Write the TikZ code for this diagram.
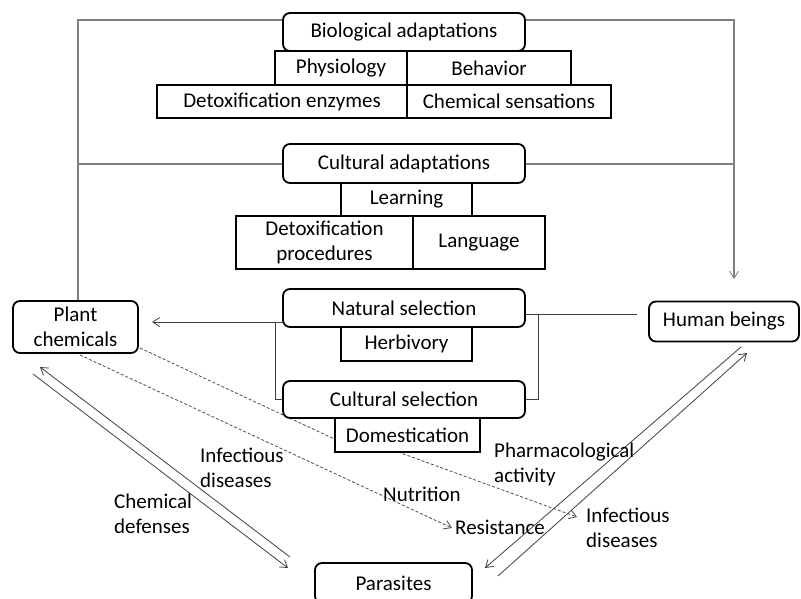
\documentclass[tikz,border=0pt]{standalone}
\usepackage{fontspec}
\setmainfont{Carlito}
\usetikzlibrary{arrows.meta}
\begin{document}
\begin{tikzpicture}[x=1pt,y=-1pt,
  every node/.style={font=\fontsize{21}{25}\selectfont, inner sep=0pt, align=center},
  rbox/.style={draw=black, line width=1.8pt, rounded corners=7pt, fill=white},
  sbox/.style={draw=black, line width=1.8pt, fill=white},
  gline/.style={draw=black!50, line width=1.2pt},
  dline/.style={draw=black!75, line width=0.8pt},
  dashln/.style={draw=black!70, line width=0.8pt, dash pattern=on 3pt off 2pt},
  arrtip/.style={-{Straight Barb[length=7pt,width=9pt,line width=0.8pt]}},
  lbl/.style={font=\fontsize{21}{25}\selectfont, align=left, fill=none}
]
\useasboundingbox (0,0) rectangle (801,599);

% top gray connectors
\coordinate (tl) at (78,20);
\coordinate (tr) at (734,20);
\coordinate (ml) at (78,164);
\coordinate (mr) at (734,164);
\coordinate (harrow) at (734,279);
\draw[gline] (283,20) -- (tl) -- (78,301);
\draw[gline, -{Straight Barb[length=7pt,width=9pt,line width=0.9pt]}] (525,20) -- (tr) -- (harrow);
\draw[gline] (283,164) -- (ml);
\draw[gline] (525,164) -- (mr);

% biological adaptations
\node[rbox, minimum width=242, minimum height=38] (bio) at (404,32) {Biological adaptations};
\node[sbox, minimum width=132, minimum height=34] (phys) at (341,68) {Physiology};
\node[sbox, minimum width=164, minimum height=34] (behav) at (489,68) {Behavior};
\node[sbox, minimum width=250, minimum height=33] (detox) at (282,101.5) {Detoxification enzymes};
\node[sbox, minimum width=204, minimum height=33] (chem) at (509,101.5) {Chemical sensations};

% cultural adaptations
\node[rbox, minimum width=242, minimum height=39] (cult) at (404,163.5) {Cultural adaptations};
\node[sbox, minimum width=131, minimum height=33] (learn) at (406.5,199.5) {Learning};
\node[sbox, minimum width=177, minimum height=53] (detproc) at (324.5,242.5) {Detoxification\\procedures};
\node[sbox, minimum width=132, minimum height=53] (lang) at (479,242.5) {Language};

% side nodes
\node[rbox, minimum width=125, minimum height=52] (plant) at (75.5,327) {Plant\\chemicals};
\node[rbox, minimum width=150, minimum height=40] (human) at (724,321.5) {Human beings};
\node[rbox, minimum width=157, minimum height=40] (para) at (393.5,583) {Parasites};

% selection brackets
\coordinate (lb1) at (275,322);
\coordinate (lb2) at (275,399);
\coordinate (rb1) at (538,314);
\coordinate (rb2) at (538,399);
\coordinate (rend) at (637,314);
\coordinate (parrow) at (152,322);
\draw[dline, arrtip] (283,322) -- (parrow);
\draw[dline] (lb1) -- (lb2) -- (283,399);
\draw[dline] (525,314) -- (rend);
\draw[dline] (rb1) -- (rb2) -- (525,399);

% dashed lines
\coordinate (d1s) at (140,348);
\coordinate (d1b) at (345,444);
\coordinate (d1c) at (398,452);
\coordinate (d1e) at (577,517);
\coordinate (d2s) at (80,355);
\coordinate (d2e) at (452,528);
\draw[dashln, arrtip] (d1s) -- (d1b) -- (d1c) -- (d1e);
\draw[dashln, arrtip] (d2s) -- (d2e);

% selection nodes
\node[rbox, minimum width=242, minimum height=38] (nat) at (404,308) {Natural selection};
\node[sbox, minimum width=131, minimum height=34] (herb) at (406.5,344) {Herbivory};
\node[rbox, minimum width=242, minimum height=37] (culsel) at (404,399.5) {Cultural selection};
\node[sbox, minimum width=145, minimum height=34] (dom) at (407.5,435) {Domestication};

% double arrows plant <-> parasites
\coordinate (pa1) at (290,557);
\coordinate (pa2) at (40,367);
\coordinate (pb1) at (33,374);
\coordinate (pb2) at (288,568);
\draw[dline, arrtip] (pa1) -- (pa2);
\draw[dline, arrtip] (pb1) -- (pb2);

% double arrows human <-> parasites
\coordinate (ha1) at (741,347);
\coordinate (ha2) at (485,568);
\coordinate (hb1) at (498,576);
\coordinate (hb2) at (747,353);
\draw[dline, arrtip] (ha1) -- (ha2);
\draw[dline, arrtip] (hb1) -- (hb2);

% labels
\node[lbl, anchor=north west] (l1) at (200,448) {Infectious\\diseases};
\node[lbl, anchor=north west] (l2) at (114,494) {Chemical\\defenses};
\node[lbl, anchor=north west] (l3) at (383,487) {Nutrition};
\node[lbl, anchor=north west] (l4) at (455,520) {Resistance};
\node[lbl, anchor=north west] (l5) at (494,443) {Pharmacological\\activity};
\node[lbl, anchor=north west] (l6) at (586,508) {Infectious\\diseases};
\end{tikzpicture}
\end{document}
